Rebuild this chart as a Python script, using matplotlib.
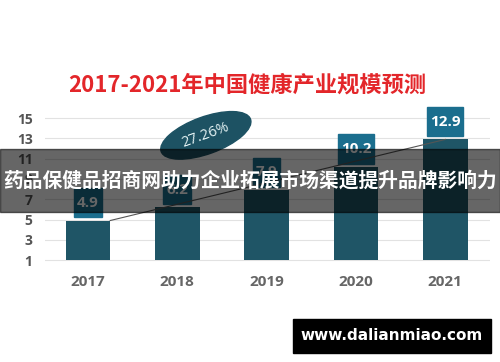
import numpy as np
import matplotlib.pyplot as plt
from matplotlib.patches import Rectangle, Ellipse

plt.rcParams['font.family'] = ['Noto Sans CJK SC', 'DejaVu Sans']

# chart data
years = ['2017', '2018', '2019', '2020', '2021']
values = [4.9, 6.2, 7.9, 10.2, 12.9]
value_labels = ['4.9', '6.2', '7.9', '10.2', '12.9']
yticks = [1, 3, 5, 7, 9, 11, 13, 15]
growth_label = '27.26%'
title = '2017-2021年中国健康产业规模预测'
banner = '药品保健品招商网助力企业拓展市场渠道提升品牌影响力'
site = 'www.dalianmiao.com'

bar_color = '#1f5566'
box_color = '#1b6e8e'
base = 1

fig = plt.figure(figsize=(5, 3.62), dpi=100)
ax = fig.add_axes([0.09, 0.276, 0.89, 0.4475])
x = np.arange(len(years))

ax.bar(x, [v - base for v in values], bottom=base, width=0.5, color=bar_color, zorder=2)

# value boxes above bars
for xi, v, lab in zip(x, values, value_labels):
    w = 0.09 * len(lab) + 0.04
    ax.add_patch(Rectangle((xi - w / 2, v + 0.3), w, 2.9, color=box_color, zorder=3))
    ax.text(xi, v + 1.75, lab, ha='center', va='center', color='white',
            fontsize=11, fontweight='bold', family='Open Sans', zorder=4)

# trend line
ax.plot([x[0] + 0.25, x[-1]], [values[0], values[-1]], color='#555555', lw=0.8, zorder=3)

ax.set_xlim(-0.48, 4.5)
ax.set_ylim(0.8, 16.78)
ax.set_yticks(yticks)
ax.set_xticks(x)
ax.set_xticklabels(years)
ax.grid(axis='y', color='#e2e2e2', lw=0.8, zorder=0)
ax.tick_params(length=0)
ax.tick_params(axis='y', pad=9)
ax.tick_params(axis='x', pad=9)
for lbl in ax.get_yticklabels():
    lbl.set(color='#555555', fontweight='bold', fontsize=10, family='Open Sans')
for lbl in ax.get_xticklabels():
    lbl.set(color='#666666', fontweight='bold', fontsize=11, family='Open Sans')
for s in ax.spines.values():
    s.set_visible(False)

# growth ellipse
cx, cy = ax.transData.transform((1.32, 13.3)) / fig.dpi
fig.patches.append(Ellipse((cx, cy), 0.95, 0.37, angle=20, color='#1d5263',
                           transform=fig.dpi_scale_trans, zorder=5))
fig.text(cx / 5, cy / 3.62, growth_label, rotation=20, ha='center', va='center',
         color='#e6f4f5', fontsize=10.5, family='Open Sans', zorder=6)

# title
fig.text(0.494, 0.765, title, ha='center', va='center', color='#e3262a',
         fontsize=16, fontweight='bold')

# overlay banner
fig.patches.append(Rectangle((0, 1 - 212 / 362), 1, 63 / 362, transform=fig.transFigure,
                             color='black', alpha=0.6, zorder=7))
fig.text(0.5, 0.5, banner, ha='center', va='center', color='white',
         fontsize=14.2, fontweight='bold', zorder=8)

# watermark
fig.patches.append(Rectangle((293 / 500, 1 - 353 / 362), 198 / 500, 34 / 362,
                             transform=fig.transFigure, color='black', zorder=7))
fig.text(392 / 500, 1 - 336 / 362, site, ha='center', va='center', color='white',
         fontsize=11, fontweight='bold', family='DejaVu Sans', zorder=8)

fig.savefig('out.png', dpi=100)
